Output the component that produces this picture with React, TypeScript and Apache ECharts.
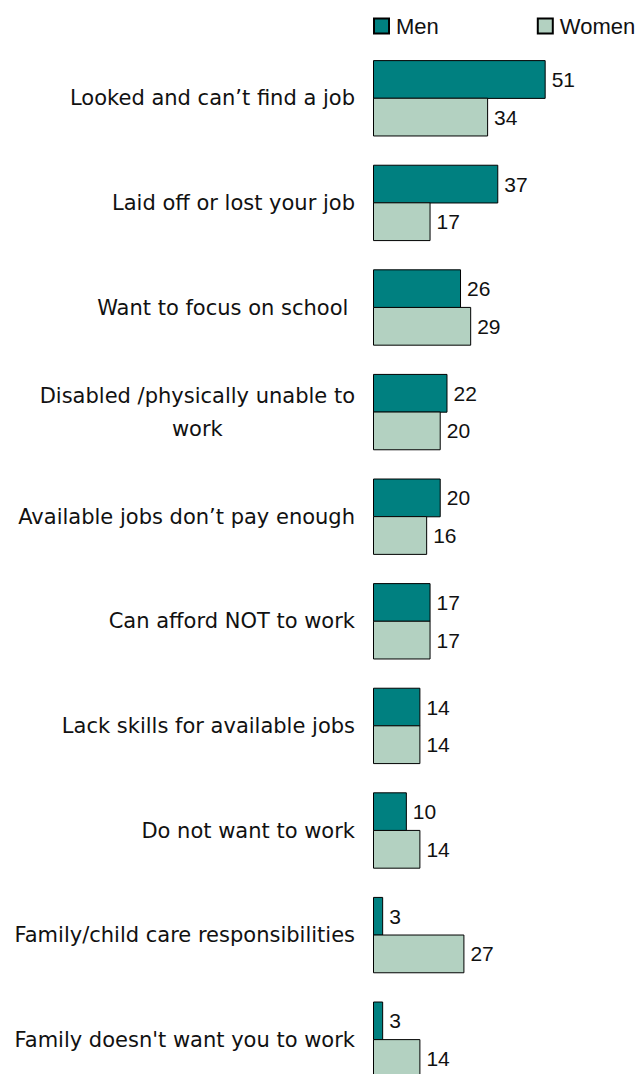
import React, { useEffect, useRef } from "react";
import * as echarts from "echarts";

const categories = [
  "Looked and can\u2019t find a job",
  "Laid off or lost your job",
  "Want to focus on school ",
  "Disabled /physically unable to\nwork",
  "Available jobs don\u2019t pay enough",
  "Can afford NOT to work",
  "Lack skills for available jobs",
  "Do not want to work",
  "Family/child care responsibilities",
  "Family doesn't want you to work",
];
const men = [51, 37, 26, 22, 20, 17, 14, 10, 3, 3];
const women = [34, 17, 29, 20, 16, 17, 14, 14, 27, 14];

const CAT_FONT = "DejaVu Sans";
const NUM_FONT = "Liberation Sans";

export default function App() {
  const ref = useRef<HTMLDivElement>(null);
  useEffect(() => {
    const chart = echarts.init(ref.current!, null, { renderer: "svg" });
    const labelStyle = {
      show: true,
      position: "right" as const,
      distance: 6,
      color: "#111",
      fontFamily: NUM_FONT,
      fontSize: 21,
    };
    chart.setOption({
      animation: false,
      legend: {
        left: 373,
        top: 15,
        width: 270,
        itemWidth: 15,
        itemHeight: 15,
        itemGap: 98,
        padding: 0,
        icon: "rect",
        textStyle: { fontFamily: NUM_FONT, fontSize: 22, color: "#111", padding: [0, 0, 0, 2] },
        data: ["Men", "Women"],
      },
      grid: { left: 373, right: 33, top: 46, bottom: 0 },
      xAxis: {
        type: "value",
        min: 0,
        max: 70,
        show: false,
      },
      yAxis: {
        type: "category",
        inverse: true,
        data: categories,
        axisLine: { show: false },
        axisTick: { show: false },
        axisLabel: {
          margin: 18,
          color: "#111",
          fontFamily: CAT_FONT,
          fontSize: 21,
          lineHeight: 33,
          formatter: (v: string) =>
            v.includes("\n")
              ? v
                  .split("\n")
                  .map((s) => "{c|" + s + "}")
                  .join("\n")
              : v,
          rich: {
            c: { align: "center", fontFamily: CAT_FONT, fontSize: 21, color: "#111", lineHeight: 33 },
          },
        },
      },
      series: [
        {
          name: "Men",
          type: "bar",
          data: men,
          barGap: "-3%",
          barCategoryGap: "27%",
          itemStyle: { color: "#008080", borderColor: "#000", borderWidth: 1 },
          label: labelStyle,
        },
        {
          name: "Women",
          type: "bar",
          data: women,
          barGap: "-3%",
          barCategoryGap: "27%",
          itemStyle: { color: "#B3D1C1", borderColor: "#000", borderWidth: 1 },
          label: labelStyle,
        },
      ],
    });
    return () => chart.dispose();
  }, []);
  return (
    <div
      ref={ref}
      style={{ position: "absolute", left: 0, top: 0, width: 643, height: 1092 }}
    />
  );
}
